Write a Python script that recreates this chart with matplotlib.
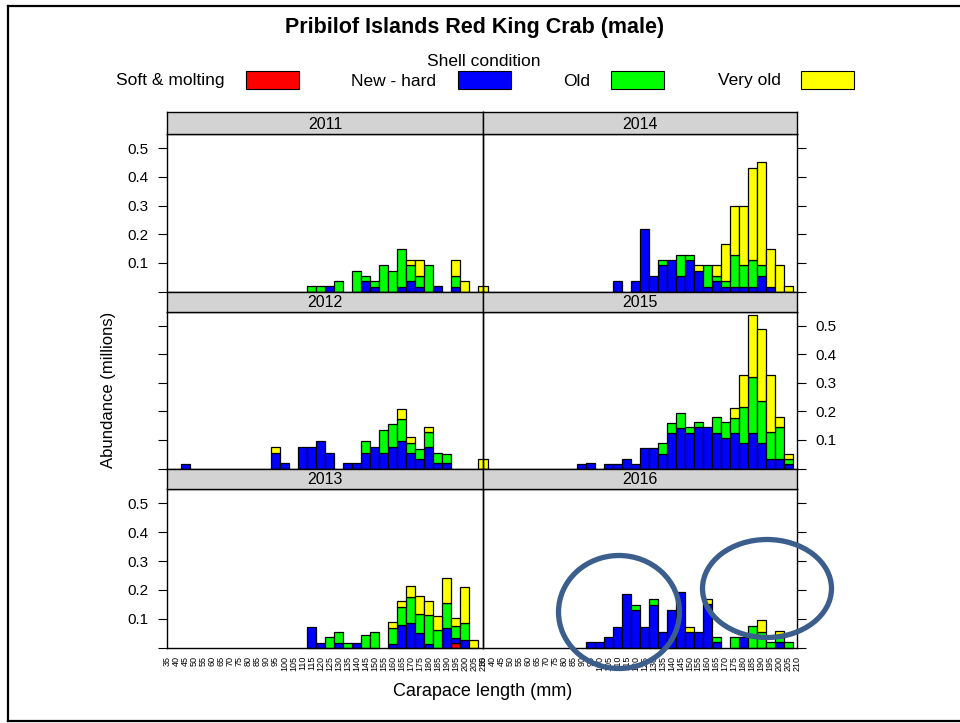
import matplotlib
matplotlib.use("Agg")
import matplotlib.pyplot as plt
from matplotlib.patches import Ellipse, Rectangle
from matplotlib.lines import Line2D

plt.rcParams['font.family'] = ['Liberation Sans', 'DejaVu Sans']

# ---------------- data ----------------
sizes = [35, 40, 45, 50, 55, 60, 65, 70, 75, 80, 85, 90, 95, 100, 105, 110, 115, 120,
         125, 130, 135, 140, 145, 150, 155, 160, 165, 170, 175, 180, 185, 190, 195, 200,
         205, 210]
size_labels = [str(s) for s in sizes]
y_ticks = [0.0, 0.1, 0.2, 0.3, 0.4, 0.5]
y_tick_labels = ["", "0.1", "0.2", "0.3", "0.4", "0.5"]

conditions = ["Soft & molting", "New - hard", "Old", "Very old"]
cond_colors = ["#FF0000", "#0000FF", "#00FF00", "#FFFF00"]

# abundance (millions) by carapace length bin, per year and shell condition
soft_2011 = {}
new_2011 = {125: 0.018, 145: 0.036, 150: 0.017, 165: 0.017, 170: 0.036, 175: 0.017,
            185: 0.018, 195: 0.017}
old_2011 = {115: 0.018, 120: 0.018, 130: 0.036, 140: 0.072, 145: 0.018, 150: 0.019,
            155: 0.091, 160: 0.072, 165: 0.130, 170: 0.055, 175: 0.037, 180: 0.091,
            195: 0.037}
vold_2011 = {170: 0.018, 175: 0.055, 195: 0.055, 200: 0.036, 210: 0.018}

soft_2012 = {}
new_2012 = {45: 0.016, 95: 0.055, 100: 0.020, 110: 0.076, 115: 0.076, 120: 0.097,
            125: 0.056, 135: 0.020, 140: 0.020, 145: 0.056, 150: 0.076, 155: 0.056,
            160: 0.076, 165: 0.095, 170: 0.056, 175: 0.034, 180: 0.076, 185: 0.020,
            190: 0.020}
old_2012 = {145: 0.039, 155: 0.078, 160: 0.079, 165: 0.078, 170: 0.032, 175: 0.036,
            180: 0.052, 185: 0.036, 190: 0.032}
vold_2012 = {95: 0.021, 165: 0.034, 170: 0.021, 180: 0.016, 210: 0.034}

soft_2013 = {195: 0.016}
new_2013 = {115: 0.072, 120: 0.016, 130: 0.016, 140: 0.016, 160: 0.013, 165: 0.078,
            170: 0.084, 175: 0.050, 180: 0.013, 190: 0.069, 195: 0.017, 200: 0.026}
old_2013 = {125: 0.036, 130: 0.038, 135: 0.016, 145: 0.043, 150: 0.054, 160: 0.056,
            165: 0.064, 170: 0.090, 175: 0.066, 180: 0.099, 185: 0.062, 190: 0.087,
            195: 0.043, 200: 0.060}
vold_2013 = {160: 0.019, 165: 0.019, 170: 0.038, 175: 0.063, 180: 0.049, 185: 0.047,
             190: 0.086, 195: 0.027, 200: 0.123, 205: 0.026}

soft_2014 = {}
new_2014 = {110: 0.036, 120: 0.036, 125: 0.219, 130: 0.055, 135: 0.091, 140: 0.109,
            145: 0.055, 150: 0.109, 155: 0.072, 160: 0.017, 165: 0.036, 170: 0.017,
            175: 0.017, 180: 0.017, 185: 0.017, 190: 0.055, 195: 0.017}
old_2014 = {135: 0.018, 145: 0.073, 150: 0.019, 160: 0.074, 165: 0.019, 170: 0.019,
            175: 0.111, 180: 0.077, 185: 0.092, 190: 0.039}
vold_2014 = {155: 0.022, 165: 0.039, 170: 0.131, 175: 0.171, 180: 0.205, 185: 0.322,
             190: 0.359, 195: 0.133, 200: 0.094, 205: 0.019}

soft_2015 = {}
new_2015 = {90: 0.016, 95: 0.020, 105: 0.016, 110: 0.016, 115: 0.034, 120: 0.016,
            125: 0.072, 130: 0.072, 135: 0.052, 140: 0.126, 145: 0.141, 150: 0.126,
            155: 0.144, 160: 0.144, 165: 0.126, 170: 0.107, 175: 0.126, 180: 0.088,
            185: 0.126, 190: 0.088, 195: 0.034, 200: 0.034, 205: 0.016}
old_2015 = {135: 0.036, 140: 0.032, 145: 0.053, 150: 0.018, 155: 0.018, 165: 0.054,
            170: 0.055, 175: 0.050, 180: 0.128, 185: 0.195, 190: 0.147, 195: 0.093,
            200: 0.110, 205: 0.018}
vold_2015 = {175: 0.037, 180: 0.110, 185: 0.217, 190: 0.252, 195: 0.199, 200: 0.036,
             205: 0.018}

soft_2016 = {}
new_2016 = {95: 0.018, 100: 0.018, 105: 0.036, 110: 0.072, 115: 0.186, 120: 0.131,
            125: 0.072, 130: 0.149, 135: 0.054, 140: 0.131, 145: 0.194, 150: 0.054,
            155: 0.054, 160: 0.150, 165: 0.018, 180: 0.036, 200: 0.019}
old_2016 = {120: 0.018, 130: 0.019, 165: 0.018, 175: 0.036, 185: 0.076, 190: 0.054,
            195: 0.018, 200: 0.019, 205: 0.018}
vold_2016 = {150: 0.018, 160: 0.018, 190: 0.041, 200: 0.020}

panel_years = [["2011", "2014"], ["2012", "2015"], ["2013", "2016"]]
year_data = {
    "2011": [soft_2011, new_2011, old_2011, vold_2011],
    "2012": [soft_2012, new_2012, old_2012, vold_2012],
    "2013": [soft_2013, new_2013, old_2013, vold_2013],
    "2014": [soft_2014, new_2014, old_2014, vold_2014],
    "2015": [soft_2015, new_2015, old_2015, vold_2015],
    "2016": [soft_2016, new_2016, old_2016, vold_2016],
}

# ---------------- layout ----------------
W, H = 960, 723
fig = plt.figure(figsize=(W / 100, H / 100), dpi=100)
fig.patch.set_facecolor("white")


def fbox(x0, y0, x1, y1):
    return [x0 / W, 1 - y1 / H, (x1 - x0) / W, (y1 - y0) / H]


cols = [(167, 483), (483, 797)]
rows = [(112, 134, 291.5), (291.5, 311.5, 468.5), (468.5, 489, 647.5)]

for r, (stop, ptop, pbot) in enumerate(rows):
    for c, (cx0, cx1) in enumerate(cols):
        year = panel_years[r][c]
        ax = fig.add_axes(fbox(cx0, ptop, cx1, pbot))
        ax.patch.set_visible(False)
        ax.set_xlim(35, 210)
        ax.set_ylim(0, 0.55)
        bottoms = [0.0] * len(sizes)
        for cond_vals, col in zip(year_data[year], cond_colors):
            xs, hs, bs = [], [], []
            for i, s in enumerate(sizes):
                v = cond_vals.get(s, 0.0)
                if v > 0:
                    xs.append(s)
                    hs.append(v)
                    bs.append(bottoms[i])
                    bottoms[i] += v
            if xs:
                bars = ax.bar(xs, hs, width=5, bottom=bs, color=col,
                              edgecolor="black", linewidth=0.9, zorder=2)
                for b in bars:
                    b.set_clip_on(False)
        for sp in ax.spines.values():
            sp.set_linewidth(1.0)
            sp.set_zorder(3)
        ax.set_yticks(y_ticks)
        ax.set_yticklabels(y_tick_labels)
        ax.tick_params(axis="y", left=(c == 0), right=(c == 1),
                       labelleft=(c == 0 and r != 1), labelright=(c == 1 and r == 1),
                       direction="out", length=6.5, width=0.8, labelsize=11, pad=7)
        if r == 2:
            ax.set_xticks(sizes)
            ax.set_xticklabels(size_labels, rotation=90, fontsize=6.5)
            ax.tick_params(axis="x", length=0, pad=6)
        else:
            ax.set_xticks([])
        # strip
        sax = fig.add_axes(fbox(cx0, stop, cx1, ptop))
        sax.set_facecolor("#D3D3D3")
        sax.set_xticks([])
        sax.set_yticks([])
        for sp in sax.spines.values():
            sp.set_linewidth(1.0)
        sax.text(0.5, 0.45, year, ha="center", va="center", fontsize=11.5,
                 transform=sax.transAxes)

# titles and labels
fig.text(475 / W, 1 - 28 / H, "Pribilof Islands Red King Crab (male)", ha="center",
         va="center", fontsize=15.5, fontweight="bold")
fig.text(484 / W, 1 - 61 / H, "Shell condition", ha="center", va="center", fontsize=12.5)
legend_pos = [(224, 246), (436, 458), (590, 611), (781, 801)]
for (tx, rx), lab, col in zip(legend_pos, conditions, cond_colors):
    fig.text(tx / W, 1 - 81 / H, lab, ha="right", va="center", fontsize=12.5)
    fig.add_artist(Rectangle((rx / W, 1 - 89 / H), 53 / W, 18 / H,
                             transform=fig.transFigure, facecolor=col,
                             edgecolor="black", linewidth=0.8))
fig.text(108 / W, 1 - 390 / H, "Abundance (millions)", rotation=90, ha="center",
         va="center", fontsize=12)
fig.text(483 / W, 1 - 692 / H, "Carapace length (mm)", ha="center", va="center",
         fontsize=13)

# outer frame
for xs_, ys_ in [([8, 8], [6, 721]), ([8, 960], [6, 6]), ([8, 960], [721, 721])]:
    fig.add_artist(Line2D([x / W for x in xs_], [1 - y / H for y in ys_],
                          transform=fig.transFigure, color="black", linewidth=1.6))

# annotation ellipses
for cx, cy, ew, eh in [(619, 612, 121, 113), (767, 588.5, 129, 98)]:
    fig.add_artist(Ellipse((cx / W, 1 - cy / H), ew / W, eh / H,
                           transform=fig.transFigure, fill=False,
                           edgecolor="#3B5E8C", linewidth=3.8, zorder=10))

fig.savefig("out.png", dpi=100)
